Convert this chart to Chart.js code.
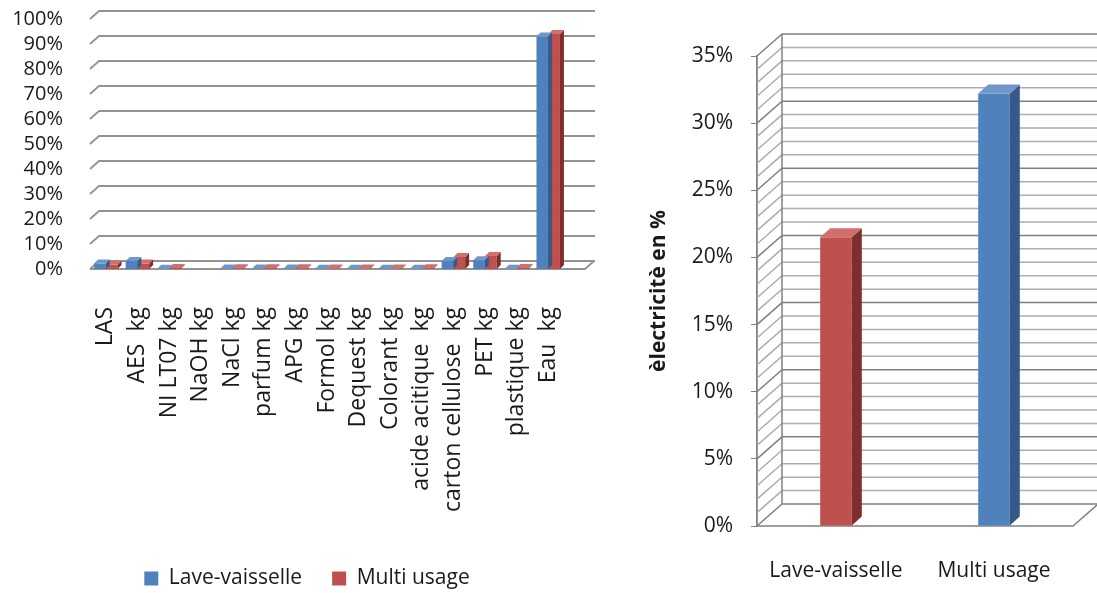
<!DOCTYPE html>
<html>
<head>
<meta charset="utf-8">
<script src="https://cdn.jsdelivr.net/npm/chart.js@4/dist/chart.umd.min.js"></script>
<style>
  body { margin: 0; background: #fff; overflow: hidden; }
  #gauche { position: absolute; left: 0; top: 0; width: 620px; height: 593px; overflow: hidden; }
  #droite { position: absolute; left: 620px; top: 0; width: 477px; height: 593px; overflow: hidden; }
</style>
</head>
<body>
<div id="gauche"><canvas id="composition" width="620" height="599"></canvas></div>
<div id="droite"><canvas id="electricite" width="477" height="593"></canvas></div>
<script>
// Graphique de gauche : composition des produits (en %)
const categories = ['LAS', 'AES  kg', 'NI LT07 kg', 'NaOH kg', 'NaCl kg', 'parfum kg', 'APG kg', 'Formol kg',
    'Dequest kg', 'Colorant kg', 'acide acitique  kg', 'carton cellulose  kg', 'PET kg', 'plastique kg', 'Eau  kg'];
const laveVaisselle = [2.2, 3.2, 0.1, 0, 0.2, 0.2, 0.2, 0.1, 0.1, 0.1, 0.1, 3.2, 3.5, 0.1, 93];
const multiUsage = [1.7, 2.2, 0.4, 0, 0.3, 0.3, 0.3, 0.2, 0.2, 0.2, 0.3, 4.8, 5.2, 0.4, 94];
const series = ['Lave-vaisselle', 'Multi usage'];
const ticksGauche = [0, 100, 10];

// Graphique de droite : électricité
const produits = ['Lave-vaisselle', 'Multi usage'];
const electricite = [21.5, 32.2];
const ticksDroite = [0, 35, 1, 5];

const bleu = '#4F81BD';
const rouge = '#C0504D';
// faces latérales / dessus pour l'effet 3D
const faces = {
    '#4F81BD': ['#37598A', '#7097CB'],
    '#C0504D': ['#7E2F2D', '#D06F6C']
};

Chart.defaults.font.family = '"Open Sans", sans-serif';
Chart.defaults.color = '#1a1a1a';

const relief = {
    id: 'relief',
    afterLayout(chart, args, o) {
        // décale la légende vers la droite
        if (o.decalageLegende && chart.legend) {
            chart.legend.left += o.decalageLegende;
            chart.legend.right += o.decalageLegende;
        }
    },
    beforeDatasetsDraw(chart, args, o) {
        const { ctx, chartArea: a, scales: { y } } = chart;
        ctx.save();
        ctx.lineWidth = o.epaisseur;
        for (let v = y.min; v <= y.max; v += o.pas) {
            const py = y.getPixelForValue(v);
            ctx.strokeStyle = (v % o.majeur === 0) ? o.couleurMajeur : o.couleurMineur;
            ctx.beginPath();
            ctx.moveTo(a.left, py);
            ctx.lineTo(a.left + o.dx, py - o.dy);
            ctx.lineTo(a.right + o.dx + o.murExtra, py - o.dy);
            ctx.stroke();
        }
        // le sol
        const y0 = y.getPixelForValue(0);
        ctx.strokeStyle = o.couleurMajeur;
        ctx.beginPath();
        ctx.moveTo(a.left, y0);
        ctx.lineTo(a.right + o.solExtra, y0);
        ctx.lineTo(a.right + o.solExtra + o.dx, y0 - o.dy);
        ctx.stroke();
        if (o.murGauche) {
            ctx.beginPath();
            ctx.moveTo(a.left + o.dx, y.getPixelForValue(y.max) - o.dy);
            ctx.lineTo(a.left + o.dx, y0 - o.dy);
            ctx.stroke();
        }
        ctx.restore();
    },
    afterDatasetDraw(chart, args, o) {
        const ctx = chart.ctx;
        const d = o.barre;
        ctx.save();
        args.meta.data.forEach((barre, i) => {
            const valeur = chart.data.datasets[args.index].data[i];
            if (!valeur) return;
            const { x, y, base, width } = barre.getProps(['x', 'y', 'base', 'width'], true);
            const couleurs = faces[barre.options.backgroundColor] || ['#666', '#999'];
            const g = x - width / 2, dr = x + width / 2;
            ctx.fillStyle = couleurs[0];
            ctx.beginPath();
            ctx.moveTo(dr, y); ctx.lineTo(dr + d.dx, y - d.dy);
            ctx.lineTo(dr + d.dx, base - d.dy); ctx.lineTo(dr, base);
            ctx.closePath(); ctx.fill();
            ctx.fillStyle = couleurs[1];
            ctx.beginPath();
            ctx.moveTo(g, y); ctx.lineTo(dr, y);
            ctx.lineTo(dr + d.dx, y - d.dy); ctx.lineTo(g + d.dx, y - d.dy);
            ctx.closePath(); ctx.fill();
        });
        ctx.restore();
    }
};

new Chart(document.getElementById('composition'), {
    type: 'bar',
    data: {
        labels: categories,
        datasets: [
            { label: series[0], data: laveVaisselle, backgroundColor: bleu },
            { label: series[1], data: multiUsage, backgroundColor: rouge }
        ]
    },
    plugins: [relief],
    options: {
        responsive: false,
        animation: false,
        layout: { padding: { top: 19, right: 56, left: 0, bottom: 0 } },
        datasets: { bar: { categoryPercentage: 0.75, barPercentage: 0.98 } },
        scales: {
            x: {
                grid: { display: false },
                border: { display: false },
                ticks: { autoSkip: false, minRotation: 90, maxRotation: 90, padding: 30, font: { size: 23 } },
                afterFit: s => { s.height = 269; }
            },
            y: {
                min: ticksGauche[0], max: ticksGauche[1],
                grid: { display: false },
                border: { display: false },
                ticks: { stepSize: ticksGauche[2], autoSkip: false, padding: 19, font: { size: 20 }, callback: v => v + '%' },
                afterFit: s => { s.width = 90; s.paddingTop = 0; s.paddingBottom = 0; }
            }
        },
        plugins: {
            legend: {
                position: 'bottom',
                labels: { boxWidth: 14, boxHeight: 14, padding: 30, font: { size: 21 } }
            },
            tooltip: { enabled: false },
            relief: {
                dx: 9, dy: 8, pas: 10, majeur: 10, epaisseur: 1.8,
                couleurMajeur: '#939393', couleurMineur: '#939393',
                murExtra: 22, solExtra: 21, murGauche: false, decalageLegende: 25,
                barre: { dx: 4, dy: 4 }
            }
        }
    }
});

new Chart(document.getElementById('electricite'), {
    type: 'bar',
    data: {
        labels: produits,
        datasets: [{ label: 'électricité', data: electricite, backgroundColor: [rouge, bleu] }]
    },
    plugins: [relief],
    options: {
        responsive: false,
        animation: false,
        layout: { padding: { top: 56, right: 24, left: 0, bottom: 0 } },
        datasets: { bar: { categoryPercentage: 0.2, barPercentage: 1 } },
        scales: {
            x: {
                grid: { display: false },
                border: { display: false },
                ticks: { padding: 24, font: { size: 21 } },
                afterFit: s => { s.height = 67; }
            },
            y: {
                min: ticksDroite[0], max: ticksDroite[1],
                grid: {
                    drawOnChartArea: false, drawTicks: true, tickLength: 6,
                    color: c => (c.tick.value % ticksDroite[3] === 0) ? '#808080' : 'rgba(0,0,0,0)'
                },
                border: { display: true, color: '#808080', width: 1.8 },
                ticks: {
                    stepSize: ticksDroite[2], autoSkip: false, padding: 18, font: { size: 21 },
                    callback: v => (v % ticksDroite[3] === 0) ? v + '%' : ''
                },
                title: { display: true, text: 'èlectricitè en %', font: { size: 21, weight: 'bold' }, padding: { top: 26, bottom: 0 } },
                afterFit: s => { s.width = 137; }
            }
        },
        plugins: {
            legend: { display: false },
            tooltip: { enabled: false },
            relief: {
                dx: 25, dy: 22, pas: 1, majeur: 5, epaisseur: 1.5,
                couleurMajeur: '#808080', couleurMineur: '#adadad',
                murExtra: 60, solExtra: 0, murGauche: true,
                barre: { dx: 10, dy: 9 }
            }
        }
    }
});
</script>
</body>
</html>
